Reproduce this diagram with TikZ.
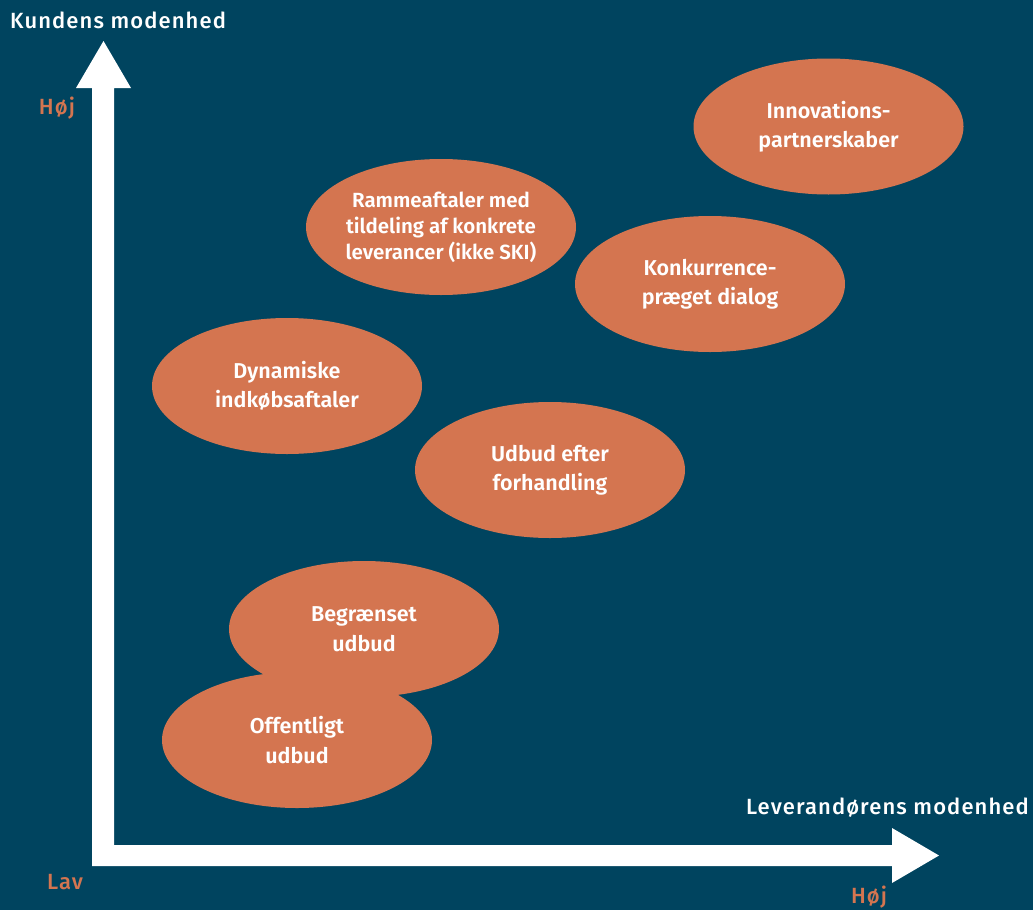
\documentclass[tikz,border=0pt]{standalone}
\usepackage{fontspec}
\setmainfont{Fira Sans}[BoldFont={Fira Sans SemiBold}]
\newfontfamily\labelfont{Fira Sans Medium}[LetterSpace=5]
\usetikzlibrary{shapes.geometric}
\definecolor{bg}{HTML}{00445F}
\definecolor{ochre}{HTML}{D47550}
\begin{document}
\begin{tikzpicture}[x=1pt,y=-1pt,
  bubble/.style={ellipse, fill=ochre, minimum width=270pt, minimum height=136pt,
    inner sep=0pt, text=white, align=center,
    font=\bfseries\fontsize{21.5}{29.5}\selectfont},
  smallbubble/.style={bubble, font=\bfseries\fontsize{20.5}{26}\selectfont},
  axistitle/.style={text=white, inner sep=0pt, font=\labelfont\fontsize{22}{26}\selectfont},
  level/.style={text=ochre, inner sep=0pt, font=\labelfont\fontsize{22}{26}\selectfont}]
% background
\fill[bg] (0,0) rectangle (1033,910);
\useasboundingbox (0,0) rectangle (1033,910);
% axes: two block arrows sharing the corner
\fill[white] (92,866) -- (92,88) -- (76,88) -- (103.5,41) -- (131,88) -- (114,88)
  -- (114,845) -- (892,845) -- (892,828) -- (939,855.5) -- (892,883) -- (892,866) -- cycle;
% axis titles and levels
\node[axistitle, anchor=west] (ytitle) at (10,20) {Kundens modenhed};
\node[axistitle, anchor=east] (xtitle) at (1029,808) {Leverandørens modenhed};
\node[level] (yhigh) at (57,108) {Høj};
\node[level] (low) at (65,882) {Lav};
\node[level] (xhigh) at (869,897) {Høj};
% procurement procedures
\node[bubble] (begr) at (364,629) {Begrænset\\udbud};
\node[bubble] (off) at (297,740) {Offentligt\\udbud};
\node[bubble] (udbud) at (550,470) {Udbud efter\\forhandling};
\node[bubble] (dyn) at (287,386) {Dynamiske\\indkøbsaftaler};
\node[bubble] (konk) at (710,284) {Konkurrence-\\præget dialog};
\node[smallbubble] (ramme) at (441,227) {Rammeaftaler med\\tildeling af konkrete\\leverancer (ikke SKI)};
\node[bubble] (innov) at (828.5,126.5) {Innovations-\\partnerskaber};
\end{tikzpicture}
\end{document}
